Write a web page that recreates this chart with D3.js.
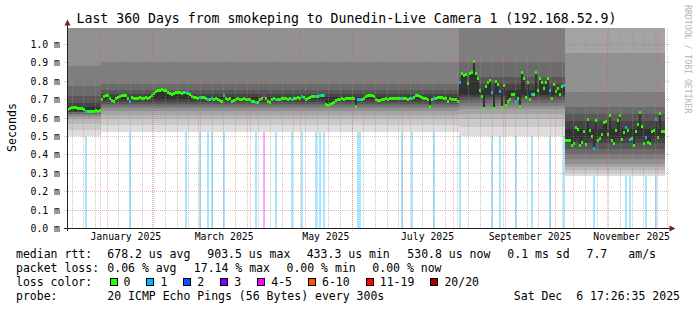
<!DOCTYPE html>
<html>
<head>
<meta charset="utf-8">
<script src="https://cdn.jsdelivr.net/npm/d3@7"></script>
<style>
  body { margin: 0; background: #fff; }
  text { font-family: "DejaVu Sans Mono", monospace; white-space: pre; }
</style>
</head>
<body>
<svg id="chart" width="697" height="310"></svg>
<script>
//-------------------
// DATA
//-------------------
var periodStart = Date.UTC(2024, 11, 12, 4, 48);   // left edge of the plot
var periodDays = 360;
var binDays = 1.2;

// median rtt per bin, in ms
var medianMs = [
  0.646, 0.648, 0.655, 0.656, 0.653, 0.650, 0.651, 0.649, 0.642, 0.633,
  0.632, 0.634, 0.635, 0.635, 0.636, 0.635, 0.636, 0.700, 0.712, 0.722,
  0.722, 0.705, 0.693, 0.690, 0.703, 0.710, 0.716, 0.722, 0.720, 0.718,
  0.705, 0.690, 0.708, 0.706, 0.704, 0.706, 0.708, 0.703, 0.705, 0.707,
  0.706, 0.710, 0.722, 0.732, 0.740, 0.746, 0.750, 0.752, 0.750, 0.745,
  0.737, 0.730, 0.728, 0.733, 0.736, 0.738, 0.735, 0.733, 0.735, 0.736,
  0.733, 0.728, 0.714, 0.710, 0.708, 0.706, 0.708, 0.711, 0.708, 0.704,
  0.700, 0.698, 0.702, 0.700, 0.703, 0.697, 0.692, 0.688, 0.718, 0.702,
  0.700, 0.703, 0.690, 0.695, 0.700, 0.703, 0.699, 0.700, 0.702, 0.698,
  0.701, 0.696, 0.690, 0.686, 0.680, 0.684, 0.700, 0.705, 0.713, 0.702,
  0.690, 0.682, 0.698, 0.702, 0.700, 0.699, 0.701, 0.703, 0.706, 0.703,
  0.700, 0.702, 0.700, 0.702, 0.704, 0.708, 0.706, 0.714, 0.708, 0.700,
  0.704, 0.710, 0.714, 0.716, 0.712, 0.716, 0.720, 0.718, 0.722, 0.672,
  0.668, 0.670, 0.676, 0.684, 0.692, 0.698, 0.700, 0.702, 0.700, 0.703,
  0.705, 0.706, 0.706, 0.704, 0.658, 0.700, 0.700, 0.700, 0.705, 0.715,
  0.720, 0.720, 0.718, 0.712, 0.698, 0.694, 0.693, 0.697, 0.700, 0.702,
  0.700, 0.703, 0.705, 0.704, 0.703, 0.706, 0.705, 0.706, 0.705, 0.703,
  0.700, 0.703, 0.706, 0.710, 0.718, 0.720, 0.716, 0.708, 0.705, 0.704,
  0.700, 0.662, 0.700, 0.703, 0.705, 0.708, 0.710, 0.707, 0.705, 0.702,
  0.688, 0.702, 0.700, 0.699, 0.697, 0.690, 0.790, 0.840, 0.830, 0.835,
  0.786, 0.840, 0.845, 0.904, 0.840, 0.812, 0.750, 0.717, 0.650, 0.768,
  0.790, 0.800, 0.737, 0.650, 0.795, 0.780, 0.740, 0.656, 0.775, 0.665,
  0.690, 0.700, 0.728, 0.725, 0.686, 0.705, 0.660, 0.846, 0.810, 0.710,
  0.790, 0.700, 0.728, 0.725, 0.845, 0.745, 0.815, 0.790, 0.760, 0.790,
  0.810, 0.750, 0.705, 0.780, 0.740, 0.760, 0.727, 0.770, 0.777, 0.478,
  0.478, 0.473, 0.446, 0.460, 0.545, 0.538, 0.450, 0.466, 0.523, 0.455,
  0.590, 0.530, 0.500, 0.430, 0.585, 0.478, 0.487, 0.510, 0.575, 0.580,
  0.510, 0.614, 0.473, 0.460, 0.530, 0.585, 0.614, 0.480, 0.520, 0.545,
  0.530, 0.480, 0.487, 0.450, 0.523, 0.565, 0.627, 0.550, 0.460, 0.490,
  0.466, 0.460, 0.523, 0.530, 0.587, 0.490, 0.620, 0.523, 0.525, null
];

// [bin, pings lost out of 20]
var lossEvents = [
  [9, 1], [31, 1], [59, 1], [66, 1], [70, 1], [72, 1], [78, 1], [94, 1],
  [98, 4], [104, 1], [112, 1], [117, 1], [124, 1], [126, 1], [128, 1],
  [145, 1], [146, 1], [167, 1], [172, 1], [183, 1], [196, 1], [212, 1],
  [216, 1], [224, 1], [232, 1], [241, 1], [248, 1], [263, 1], [279, 1],
  [281, 1], [289, 1], [294, 1]
];

// sorted ping distribution (20 pings, ms) for each stretch of the period
var regimeStartBin = [0, 17, 196, 249];
var regimePingsMs = [
  [0.500, 0.535, 0.565, 0.590, 0.605, 0.615, 0.622, 0.628, 0.633, 0.638,
   0.655, 0.680, 0.720, 0.770, 0.880, 1.150, 1.300, 1.500, 1.800, 2.500],
  [0.520, 0.560, 0.590, 0.615, 0.635, 0.650, 0.665, 0.675, 0.685, 0.695,
   0.712, 0.728, 0.748, 0.780, 0.900, 1.150, 1.300, 1.500, 1.800, 2.500],
  [0.500, 0.550, 0.590, 0.620, 0.645, 0.665, 0.680, 0.695, 0.710, 0.725,
   0.750, 0.780, 0.820, 0.900, 1.100, 1.300, 1.450, 1.600, 1.900, 2.500],
  [0.285, 0.300, 0.315, 0.330, 0.350, 0.375, 0.400, 0.430, 0.460, 0.490,
   0.540, 0.580, 0.620, 0.660, 0.740, 0.950, 1.200, 1.400, 1.700, 2.300]
];

var lossLabels = ["0", "1", "2", "3", "4-5", "6-10", "11-19", "20/20"];
var lossColors = ["#26ff00", "#00b8ff", "#0059ff", "#7e00ff", "#ff00ff", "#ff5500", "#ff0000", "#a10000"];
var lossUpper = [0, 1, 2, 3, 5, 10, 19, 20];

var rttLegend = ["median rtt:", "678.2 us avg", "903.5 us max", "433.3 us min", "530.8 us now", "0.1 ms sd", "7.7", "am/s"];
var pktLegend = ["packet loss:", "0.06 % avg", "17.14 % max", "0.00 % min", "0.00 % now"];
var probeText = "20 ICMP Echo Pings (56 Bytes) every 300s";
var stampText = "Sat Dec  6 17:26:35 2025";
var titleText = "Last 360 Days from smokeping to Dunedin-Live Camera 1 (192.168.52.9)";

//-------------------
// SCALES
//-------------------
var DAY = 864e5;
var svg = d3.select("#chart");
var x = d3.scaleUtc()
    .domain([new Date(periodStart), new Date(periodStart + periodDays * DAY)])
    .range([67, 667]);
var y = d3.scaleLinear().domain([0, 1.0869565]).range([228, 28]);

function binTime(k) { return new Date(periodStart + k * binDays * DAY); }
function lossCat(n) { return lossUpper.findIndex(u => n <= u); }
var lossByBin = new Map(lossEvents);

svg.append("rect").attr("width", 697).attr("height", 310).attr("fill", "#fff");
svg.append("clipPath").attr("id", "plot")
  .append("rect").attr("x", 67).attr("y", 28).attr("width", 600).attr("height", 200);

var plot = svg.append("g").attr("clip-path", "url(#plot)").attr("shape-rendering", "crispEdges");

//-------------------
// LOSS BARS
//-------------------
plot.selectAll("rect.loss").data(lossEvents).enter()
  .append("rect")
  .attr("class", "loss")
  .attr("x", d => x(binTime(d[0])))
  .attr("width", d => x(binTime(d[0] + 1)) - x(binTime(d[0])))
  .attr("y", 28).attr("height", 200)
  .attr("fill", d => lossColors[lossCat(d[1])])
  .attr("fill-opacity", 0.35);

//-------------------
// SMOKE
//-------------------
var smoke = [];
medianMs.forEach((m, k) => {
  if (m == null) return;
  var r = d3.bisectRight(regimeStartBin, k) - 1;
  var p = regimePingsMs[r];
  for (var i = 0; i < 10; i++) {
    smoke.push({
      k: k,
      lo: Math.min(p[i], m),
      hi: Math.max(p[19 - i], m),
      g: Math.floor(190 / 10 * (10 - (i + 1))) + 50
    });
  }
});

plot.selectAll("rect.smoke").data(smoke).enter()
  .append("rect")
  .attr("class", "smoke")
  .attr("x", d => x(binTime(d.k)))
  .attr("width", d => x(binTime(d.k + 1)) - x(binTime(d.k)))
  .attr("y", d => y(Math.min(d.hi, 1.2)))
  .attr("height", d => y(d.lo) - y(Math.min(d.hi, 1.2)))
  .attr("fill", d => d3.rgb(d.g, d.g, d.g));

//-------------------
// MEDIAN
//-------------------
var medians = medianMs.map((m, k) => ({ k: k, m: m })).filter(d => d.m != null);
plot.selectAll("rect.median").data(medians).enter()
  .append("rect")
  .attr("class", "median")
  .attr("x", d => x(binTime(d.k)))
  .attr("width", d => x(binTime(d.k + 1)) - x(binTime(d.k)))
  .attr("y", d => y(d.m) - 1.5)
  .attr("height", 3)
  .attr("fill", d => lossColors[lossCat(lossByBin.get(d.k) || 0)]);

//-------------------
// GRID
//-------------------
var grid = svg.append("g").attr("shape-rendering", "crispEdges").attr("fill", "none");
var t0 = x.domain()[0], t1 = x.domain()[1];
var minorCol = "rgba(143,143,143,0.5)", majorCol = "rgba(222,79,79,0.42)";

grid.selectAll("line.week").data(d3.utcSunday.range(t0, t1)).enter()
  .append("line")
  .attr("x1", d => Math.round(x(d)) + 0.5).attr("x2", d => Math.round(x(d)) + 0.5)
  .attr("y1", 28).attr("y2", 230)
  .attr("stroke", minorCol).attr("stroke-dasharray", "1,1");

grid.selectAll("line.month").data(d3.utcMonth.range(t0, t1)).enter()
  .append("line")
  .attr("x1", d => Math.round(x(d)) + 0.5).attr("x2", d => Math.round(x(d)) + 0.5)
  .attr("y1", 28).attr("y2", 231)
  .attr("stroke", majorCol).attr("stroke-dasharray", "1,1");

var yTicks = y.ticks(10);
grid.selectAll("line.h").data(yTicks.filter(v => v > 0)).enter()
  .append("line")
  .attr("x1", 64).attr("x2", 670)
  .attr("y1", d => Math.round(y(d)) + 0.5).attr("y2", d => Math.round(y(d)) + 0.5)
  .attr("stroke", majorCol).attr("stroke-dasharray", "1,1");

//-------------------
// AXES
//-------------------
var axis = svg.append("g").attr("shape-rendering", "crispEdges");
axis.append("line").attr("x1", 64).attr("x2", 671).attr("y1", 228.5).attr("y2", 228.5).attr("stroke", "#1f1f1f");
axis.append("line").attr("x1", 67.5).attr("x2", 67.5).attr("y1", 231).attr("y2", 23).attr("stroke", "#1f1f1f");
svg.append("path").attr("d", "M64.5,25.5L70.5,25.5L67.5,19.5Z").attr("fill", "#801f1f");
svg.append("path").attr("d", "M669.5,225.5L669.5,231.5L675.5,228.5Z").attr("fill", "#801f1f");

svg.selectAll("text.ytick").data(yTicks).enter()
  .append("text")
  .attr("x", 60).attr("y", d => Math.round(y(d)) + 3.5)
  .attr("text-anchor", "end").attr("font-size", 9.8)
  .text(d => d3.format(".1f")(d) + " m");

svg.selectAll("text.month").data(d3.utcMonth.every(2).range(t0, t1)).enter()
  .append("text")
  .attr("x", d => (x(d) + x(d3.utcMonth.offset(d, 1))) / 2)
  .attr("y", 240)
  .attr("text-anchor", "middle").attr("font-size", 9.8)
  .text(d => d3.utcFormat("%B %Y")(d));

//-------------------
// TEXTS
//-------------------
svg.append("text").attr("x", 346.5).attr("y", 23)
  .attr("text-anchor", "middle").attr("font-size", 13.2).text(titleText);

svg.append("text").attr("transform", "translate(15.5,127.5) rotate(-90)")
  .attr("text-anchor", "middle").attr("font-size", 11.6).text("Seconds");

svg.append("text").attr("transform", "translate(684.5,5) rotate(90)")
  .attr("font-size", 8.2).attr("fill", "#b4b4b4").text("RRDTOOL / TOBI OETIKER");

var legend = svg.append("g").attr("font-size", 11.5);
var rttX = [16, 107.3, 207.3, 306.7, 407.3, 507.3, 586.5, 628.3];
rttLegend.forEach((s, i) => legend.append("text").attr("x", rttX[i]).attr("y", 258).text(s));
var pktX = [16, 107.3, 193.8, 286.5, 372.3];
pktLegend.forEach((s, i) => legend.append("text").attr("x", pktX[i]).attr("y", 272).text(s));

legend.append("text").attr("x", 16).attr("y", 286).text("loss color:");
var lx = 109.5;
lossLabels.forEach((s, i) => {
  legend.append("rect").attr("x", lx + 0.5).attr("y", 278.5).attr("width", 7).attr("height", 7)
    .attr("fill", lossColors[i]).attr("stroke", "#000").attr("shape-rendering", "crispEdges");
  legend.append("text").attr("x", lx + 14).attr("y", 286).text(s);
  lx += 14 + s.length * 6.93 + 16;
});

legend.append("text").attr("x", 16).attr("y", 300).text("probe:");
legend.append("text").attr("x", 107.3).attr("y", 300).text(probeText);
legend.append("text").attr("x", 680).attr("y", 300).attr("text-anchor", "end").text(stampText);
</script>
</body>
</html>
